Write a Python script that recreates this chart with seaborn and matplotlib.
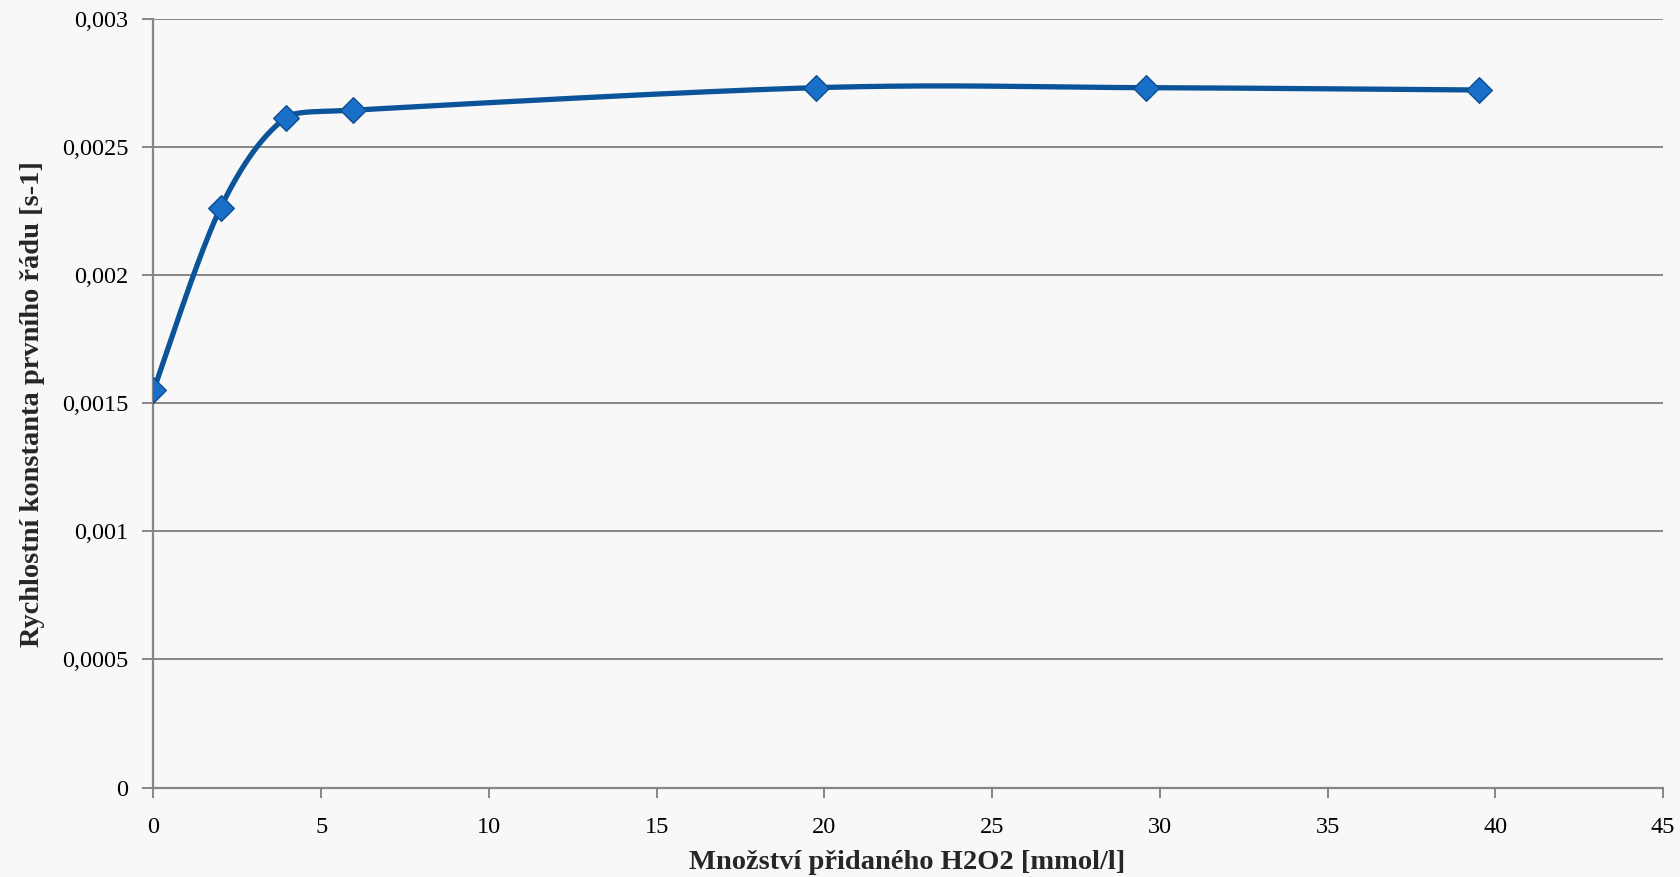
import numpy as np
import pandas as pd
import matplotlib
matplotlib.use("Agg")
import matplotlib.pyplot as plt
import seaborn as sns

# Added H2O2 amount [mmol/l] and first-order rate constant [s-1]
h2o2 = [0.0, 2.0, 3.95, 5.95, 19.75, 29.6, 39.5]
rate_k = [0.00155, 0.002263, 0.002615, 0.002644, 0.002732, 0.002732, 0.002723]

y_ticks = [0, 0.0005, 0.001, 0.0015, 0.002, 0.0025, 0.003]
y_tick_labels = ["0", "0,0005", "0,001", "0,0015", "0,002", "0,0025", "0,003"]
x_ticks = [0, 5, 10, 15, 20, 25, 30, 35, 40, 45]
x_tick_labels = [str(t) for t in x_ticks]

x_label = "Množství přidaného H2O2 [mmol/l]"
y_label = "Rychlostní konstanta prvního řádu [s-1]"

X_MAX, Y_MAX = 45, 0.003


def _clamp_arm(p, arm, lo, hi, max_len):
    """Shorten a control arm so it stays within max_len and, for rising or
    falling segments, does not reach beyond the segment's vertical extent."""
    n = np.linalg.norm(arm)
    if n > max_len > 0:
        arm = arm * (max_len / n)
    if hi > lo:
        cy = p[1] + arm[1]
        if cy > hi and arm[1] != 0:
            arm = arm * ((hi - p[1]) / arm[1])
        elif cy < lo and arm[1] != 0:
            arm = arm * ((lo - p[1]) / arm[1])
    return arm


def smooth_curve(xs, ys, sx, sy, n=80):
    """Bezier smoothing through the points (Catmull-Rom arms of 1/6),
    computed in screen units given by the scales sx, sy."""
    p = np.column_stack([np.asarray(xs) * sx, np.asarray(ys) * sy]).astype(float)
    pts = np.vstack([p[0], p, p[-1]])
    t = np.linspace(0, 1, n)[:, None]
    out = []
    for i in range(1, len(pts) - 2):
        p0, p1, p2, p3 = pts[i - 1], pts[i], pts[i + 1], pts[i + 2]
        d12 = np.linalg.norm(p2 - p1)
        lo, hi = min(p1[1], p2[1]), max(p1[1], p2[1])
        a1 = _clamp_arm(p1, (p2 - p0) / 6.0, lo, hi, d12 / 2)
        a2 = _clamp_arm(p2, -(p3 - p1) / 6.0, lo, hi, d12 / 2)
        c1, c2 = p1 + a1, p2 + a2
        seg = ((1 - t) ** 3) * p1 + 3 * ((1 - t) ** 2) * t * c1 + 3 * (1 - t) * t ** 2 * c2 + t ** 3 * p2
        out.append(seg if i == 1 else seg[1:])
    seg = np.vstack(out)
    return seg[:, 0] / sx, seg[:, 1] / sy


sns.set_theme(style="white")
plt.rcParams["font.family"] = ["Liberation Serif", "DejaVu Serif"]

bg = "#f8f8f8"
W_IN, H_IN = 16.81, 8.77
ax_rect = [0.0913, 0.1020, 0.8980, 0.8763]
fig = plt.figure(figsize=(W_IN, H_IN), dpi=100, facecolor=bg)
ax = fig.add_axes(ax_rect)
ax.set_facecolor(bg)

# screen scale of one data unit along each axis
px_w = W_IN * 100 * ax_rect[2]
px_h = H_IN * 100 * ax_rect[3]
cx, cy = smooth_curve(h2o2, rate_k, px_w / X_MAX, px_h / Y_MAX)
curve = pd.DataFrame({"x": cx, "y": cy})
points = pd.DataFrame({"x": h2o2, "y": rate_k})

sns.lineplot(data=curve, x="x", y="y", sort=False, estimator=None, ax=ax,
             color="#0b5499", linewidth=3.8, zorder=3)
sns.scatterplot(data=points, x="x", y="y", ax=ax, marker="D", s=170,
                color="#1a6fc8", edgecolor="#0b4f91", linewidth=1.0, zorder=4)

ax.set_xlim(0, X_MAX)
ax.set_ylim(0, Y_MAX)
ax.set_xticks(x_ticks)
ax.set_xticklabels(x_tick_labels)
ax.set_yticks(y_ticks)
ax.set_yticklabels(y_tick_labels)

grid_c = "#868686"
ax.yaxis.grid(True, color=grid_c, linewidth=1.4)
ax.xaxis.grid(False)
ax.set_axisbelow(True)
for side in ["top", "right"]:
    ax.spines[side].set_visible(False)
for side in ["left", "bottom"]:
    ax.spines[side].set_color(grid_c)
    ax.spines[side].set_linewidth(1.6)

ax.tick_params(axis="x", direction="out", length=7, width=1.4, color=grid_c,
               pad=14, labelsize=17.5, labelcolor="black", bottom=True)
ax.tick_params(axis="y", direction="out", length=8, width=1.4, color=grid_c,
               pad=10, labelsize=17.5, labelcolor="black", left=True)

ax.set_xlabel(x_label, fontsize=20.5, fontweight="bold")
ax.set_ylabel(y_label, fontsize=20.5, fontweight="bold")
ax.xaxis.set_label_coords(0.499, -0.098)
ax.yaxis.set_label_coords(-0.0804, 0.499)
ax.xaxis.label.set_va("center")
ax.yaxis.label.set_va("center")

fig.savefig("out.png", dpi=100, facecolor=bg)
